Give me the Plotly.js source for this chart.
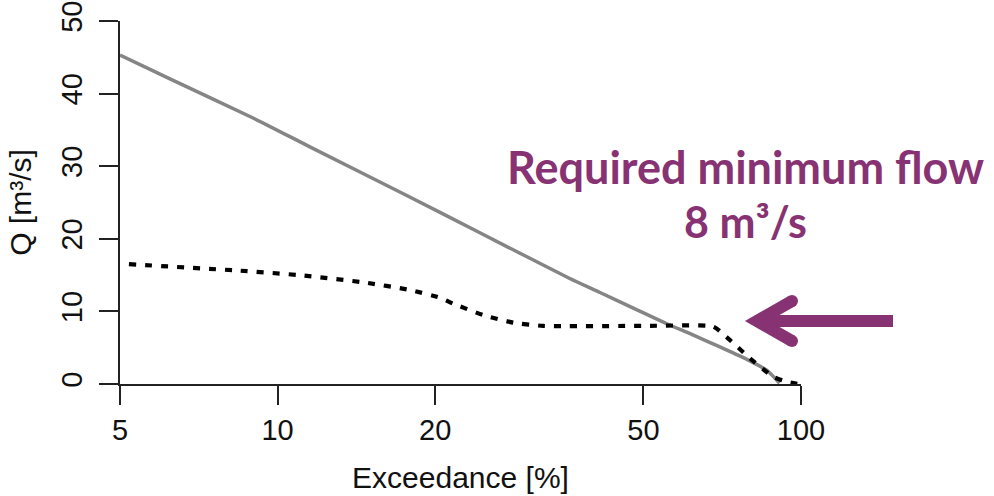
<!DOCTYPE html>
<html>
<head>
<meta charset="utf-8">
<script src="https://cdn.plot.ly/plotly-3.0.1.min.js"></script>
<style>html,body{margin:0;padding:0;background:#fff;}#chart{width:994px;height:496px;}</style>
</head>
<body>
<div id="chart"></div>
<script>
// Flow duration curve (gray, solid)
const natExceed = [5, 6.2, 9, 11.5, 17.5, 24.4, 36, 41.3, 49.3, 55.4, 62, 70, 78.8, 86, 91];
const natQ      = [45.3, 42.1, 36.6, 32.7, 26.1, 20.8, 14.6, 12.6, 10.0, 8.3, 6.8, 5.1, 3.4, 1.9, 0.1];
// Regulated flow (black, dotted)
const regExceed = [5.2, 8.5, 11, 14.6, 17.9, 20.4, 21.6, 24.7, 28.2, 32.2, 50, 68, 72, 80, 88.5, 94, 99];
const regQ      = [16.5, 15.6, 15.0, 14.0, 12.95, 11.9, 11.1, 9.5, 8.45, 8.0, 8.0, 7.9, 6.5, 3.5, 1.0, 0.3, 0];
const xTicks = [5, 10, 20, 50, 100];
const yTicks = [0, 10, 20, 30, 40, 50];
const noteLine1 = "Required minimum flow";
const noteLine2 = "8 m³/s";

// plot-area geometry (pixels) for decorative placement
const L = 120, R = 801, T = 21, B = 384;
const W = 994, H = 496;
const px = v => (v - L) / (R - L);
const py = v => (B - v) / (B - T);

const purple = "#873373";
const axisFont = {family: "Liberation Sans, Arial, sans-serif", size: 29, color: "#111"};
const titleFont = {family: "Liberation Sans, Arial, sans-serif", size: 30, color: "#111"};

const traces = [
  {x: natExceed, y: natQ, type: "scatter", mode: "lines",
   line: {color: "#858585", width: 3.5, shape: "spline", smoothing: 0.6}, hoverinfo: "skip"},
  {x: regExceed, y: regQ, type: "scatter", mode: "lines",
   line: {color: "#000", width: 4.2, dash: "7px,9px", shape: "spline", smoothing: 0.5}, hoverinfo: "skip"}
];

const headPath = `M ${px(792)},${py(301)} L ${px(757)},${py(321)} L ${px(792)},${py(341)}`;
const shapes = [
  {type: "line", xref: "paper", yref: "paper", x0: px(760), x1: px(893), y0: py(321), y1: py(321),
   line: {color: purple, width: 12}},
  {type: "path", xref: "paper", yref: "paper", path: headPath, line: {color: purple, width: 12}},
  {type: "circle", xref: "paper", yref: "paper", xsizemode: "pixel", ysizemode: "pixel",
   xanchor: px(792), yanchor: py(301), x0: -6, x1: 6, y0: -6, y1: 6,
   fillcolor: purple, line: {width: 0}},
  {type: "circle", xref: "paper", yref: "paper", xsizemode: "pixel", ysizemode: "pixel",
   xanchor: px(792), yanchor: py(341), x0: -6, x1: 6, y0: -6, y1: 6,
   fillcolor: purple, line: {width: 0}}
];

const layout = {
  width: W, height: H,
  margin: {l: L, r: W - R, t: T, b: H - B},
  paper_bgcolor: "#fff", plot_bgcolor: "#fff",
  showlegend: false,
  font: axisFont,
  xaxis: {
    type: "log", range: [Math.log10(5), Math.log10(100)],
    tickvals: xTicks, ticktext: xTicks.map(String),
    ticks: "outside", ticklen: 19, tickwidth: 2, tickcolor: "#222",
    showline: true, linecolor: "#222", linewidth: 2,
    showgrid: false, zeroline: false, tickfont: axisFont, ticklabelstandoff: 0,
    title: {text: "Exceedance [%]", font: titleFont, standoff: 22}
  },
  yaxis: {
    range: [0, 50], tickvals: yTicks, ticktext: yTicks.map(String), tickangle: -90,
    ticks: "outside", ticklen: 19, tickwidth: 2, tickcolor: "#222",
    showline: true, linecolor: "#222", linewidth: 2,
    showgrid: false, zeroline: false, tickfont: axisFont, ticklabelstandoff: 5,
    title: {text: "Q [m³/s]", font: titleFont, standoff: 16}
  },
  shapes: shapes,
  annotations: [
    {xref: "paper", yref: "paper", x: px(745), y: py(167), xanchor: "center", yanchor: "middle",
     text: "<b>" + noteLine1 + "</b>", showarrow: false,
     font: {family: "Lato, sans-serif", size: 45, color: purple}},
    {xref: "paper", yref: "paper", x: px(745), y: py(222), xanchor: "center", yanchor: "middle",
     text: "<b>" + noteLine2 + "</b>", showarrow: false,
     font: {family: "Lato, sans-serif", size: 43, color: purple}}
  ]
};

Plotly.newPlot("chart", traces, layout, {staticPlot: true, displayModeBar: false});
</script>
</body>
</html>
